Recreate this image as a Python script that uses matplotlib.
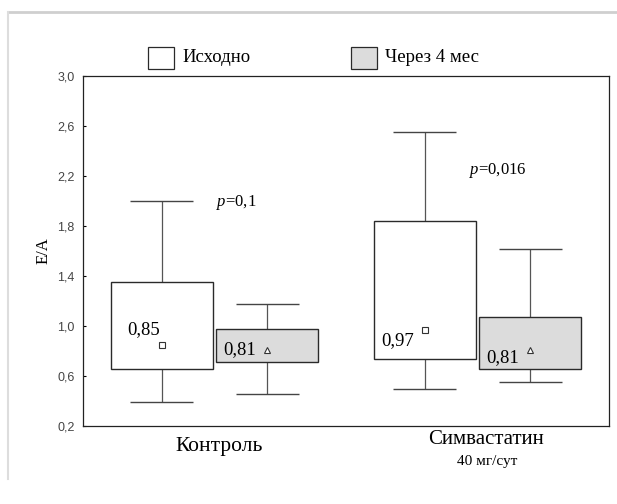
import matplotlib.pyplot as plt
from matplotlib.patches import Rectangle
from matplotlib.lines import Line2D

plt.rcParams['mathtext.fontset'] = 'custom'
plt.rcParams['mathtext.rm'] = 'Liberation Serif'
plt.rcParams['mathtext.it'] = 'Liberation Serif:italic'

# E/A ratio: box = quartiles, whiskers = min/max, marker = mean
groups = ['Контроль', 'Симвастатин']
series = ['Исходно', 'Через 4 мес']
q1 = [[0.66, 0.71], [0.74, 0.66]]
q3 = [[1.35, 0.98], [1.84, 1.07]]
lo = [[0.39, 0.46], [0.50, 0.55]]
hi = [[2.00, 1.18], [2.55, 1.62]]
means = [[0.85, 0.81], [0.97, 0.81]]
p_values = ['0,1', '0,016']
yticks = [0.2, 0.6, 1.0, 1.4, 1.8, 2.2, 2.6, 3.0]

serif = 'Liberation Serif'
sans = 'Liberation Sans'
fills = ['white', '#dcdcdc']
markers = ['s', '^']
edge = '#2a2a2a'

fig = plt.figure(figsize=(6.17, 5.04), dpi=100)
ax = fig.add_axes([83 / 617, 1 - 426 / 504, 526 / 617, 350 / 504])

centers = [1.0, 3.0]
offsets = [-0.4, 0.4]
box_w = 0.77
cap_w = 0.48

# where the mean labels sit relative to each marker (x shift, y shift)
label_shift = [[(-0.26, 0.12), (-0.33, 0.0)], [(-0.33, -0.09), (-0.33, -0.06)]]

for g, c in enumerate(centers):
    for s, off in enumerate(offsets):
        x = c + off
        ax.vlines(x, lo[g][s], q1[g][s], color='#555555', lw=0.9, zorder=1)
        ax.vlines(x, q3[g][s], hi[g][s], color='#555555', lw=0.9, zorder=1)
        ax.hlines([lo[g][s], hi[g][s]], x - cap_w / 2, x + cap_w / 2,
                  color='#444444', lw=1.0, zorder=1)
        ax.bar(x, q3[g][s] - q1[g][s], bottom=q1[g][s], width=box_w,
               facecolor=fills[s], edgecolor=edge, linewidth=1.0, zorder=2)
        ax.plot(x, means[g][s], marker=markers[s], ms=4.5, mfc='white',
                mec='#333333', mew=0.8, ls='none', zorder=3)
        dx, dy = label_shift[g][s]
        ax.text(x + dx, means[g][s] + dy, f'{means[g][s]:.2f}'.replace('.', ','),
                family=serif, fontsize=13.5, ha='left', va='center', zorder=4)

# p-values
ax.text(1.163, 1.99, r'$p$=' + p_values[0], family=serif, fontsize=12,
        ha='center', va='center')
ax.text(3.156, 2.24, r'$p$=' + p_values[1], family=serif, fontsize=12,
        ha='center', va='center')

ax.set_xlim(0, 4)
ax.set_ylim(0.2, 3.0)
ax.set_yticks(yticks)
ax.set_yticklabels([f'{t:.1f}'.replace('.', ',') for t in yticks],
                   family=sans, fontsize=9, color='#444444')
ax.tick_params(axis='y', direction='in', length=2, width=0.8, pad=6)
ax.set_xticks([])
for sp in ax.spines.values():
    sp.set_linewidth(0.9)
    sp.set_color('#222222')

ax.set_ylabel('E/A', family=serif, fontsize=12, labelpad=4)

# group labels
fig.text(219 / 617, 1 - 447 / 504, groups[0], family=serif, fontsize=15.5,
         ha='center', va='center')
fig.text(486 / 617, 1 - 440 / 504, groups[1], family=serif, fontsize=15,
         ha='center', va='center')
fig.text(487 / 617, 1 - 461 / 504, '40 мг/сут', family=serif, fontsize=11,
         ha='center', va='center')

# legend
for (x0, x1, tx), label, fc in zip([(148, 174, 182), (351, 377, 385)],
                                   series, fills):
    fig.add_artist(Rectangle((x0 / 617, 1 - 69 / 504), (x1 - x0) / 617,
                             22 / 504, transform=fig.transFigure,
                             facecolor=fc, edgecolor=edge, lw=0.9))
    fig.text(tx / 617, 1 - 58 / 504, label, family=serif, fontsize=13.5,
             ha='left', va='center')

# faint page border
fig.add_artist(Line2D([8 / 617, 1], [1 - 12 / 504, 1 - 12 / 504],
                      transform=fig.transFigure, color='#cfcfcf', lw=2))
fig.add_artist(Line2D([8 / 617, 8 / 617], [1 - 12 / 504, 0.05],
                      transform=fig.transFigure, color='#dddddd', lw=1.5))

fig.savefig('out.png', dpi=100)
